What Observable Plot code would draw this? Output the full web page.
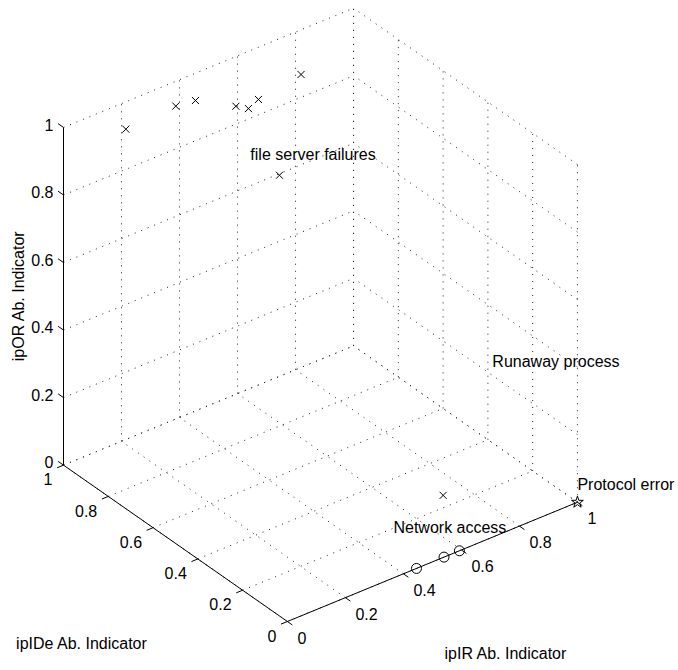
<!DOCTYPE html>
<html><head><meta charset="utf-8">
<script src="https://cdn.jsdelivr.net/npm/d3@7"></script>
<script src="https://cdn.jsdelivr.net/npm/@observablehq/plot@0.6"></script>
<style>body{margin:0;background:#fff}</style>
</head><body><div id="chart"></div>
<script>
// ---- data ----
const ticks = [0, 0.2, 0.4, 0.6, 0.8, 1];
const tickLabels = ["0", "0.2", "0.4", "0.6", "0.8", "1"];
const axisTitles = ["ipIR Ab. Indicator", "ipIDe Ab. Indicator", "ipOR Ab. Indicator"];

// "x" markers (ipIR, ipIDe, ipOR)
const crossIR  = [0.13, 0.31, 0.37, 0.44, 0.46, 0.51, 0.68, 0.32, 0.73];
const crossIDe = [0.89, 0.90, 0.89, 0.80, 0.77, 0.79, 0.82, 0.45, 0.25];
const crossOR  = [1, 1, 1, 1, 1, 1, 1, 1, 0];
// "o" markers
const circleIR  = [0.445, 0.54, 0.593];
const circleIDe = [0, 0, 0];
const circleOR  = [0, 0, 0];
// pentagram marker
const starIR = [1], starIDe = [0], starOR = [0];
// annotations
const noteText = ["file server failures", "Network access", "Runaway process", "Protocol error"];
const noteIR  = [0.32, 0.52, 1, 1];
const noteIDe = [0.58, 0.20, 0.38, 0];
const noteOR  = [1, 0, 0.24, 0.05];

// ---- 3D view (orthographic, MATLAB-like az/el) ----
const az = -37.5 * Math.PI / 180, el = 32.4 * Math.PI / 180;
const box = [1, 1.006, 1.094];
function proj(a, b, c) {
  const X = a * box[0], Y = b * box[1], Z = c * box[2];
  return [Math.cos(az) * X + Math.sin(az) * Y,
          -Math.sin(el) * Math.sin(az) * X + Math.sin(el) * Math.cos(az) * Y + Math.cos(el) * Z];
}
const W = 678, H = 670, S = 365.6, OX = 286.9, OY = 621;

function seg(p, q) { const [x1, y1] = proj(...p), [x2, y2] = proj(...q); return {x1, y1, x2, y2}; }
function pt(a, b, c, extra = {}) { const [x, y] = proj(a, b, c); return {x, y, ...extra}; }

// grid on the three back planes
const grid = [];
for (const t of ticks) {
  grid.push(seg([t, 0, 0], [t, 1, 0]), seg([0, t, 0], [1, t, 0]));   // floor
  grid.push(seg([t, 1, 0], [t, 1, 1]), seg([0, 1, t], [1, 1, t]));   // back wall (ipIDe = 1)
  grid.push(seg([1, t, 0], [1, t, 1]), seg([1, 0, t], [1, 1, t]));   // side wall (ipIR = 1)
}
const axesLines = [seg([0, 0, 0], [1, 0, 0]), seg([0, 0, 0], [0, 1, 0]), seg([0, 1, 0], [0, 1, 1])];
const tk = 0.022;
const tickSegs = [];
const irLabels = [], ideLabels = [], orLabels = [];
ticks.forEach((t, i) => {
  tickSegs.push(seg([t, 0, 0], [t, -tk, 0]));
  tickSegs.push(seg([0, t, 0], [-tk, t, 0]));
  tickSegs.push(seg([0, 1, t], [0, 1 + tk * 1.1, t]));
  irLabels.push(pt(t, 0, 0, {text: tickLabels[i]}));
  ideLabels.push(pt(0, t, 0, {text: tickLabels[i]}));
  orLabels.push(pt(0, 1, t, {text: tickLabels[i]}));
});

const crosses = crossIR.map((v, i) => pt(v, crossIDe[i], crossOR[i]));
const circles = circleIR.map((v, i) => pt(v, circleIDe[i], circleOR[i]));
const stars = starIR.map((v, i) => pt(v, starIDe[i], starOR[i]));
const notes = noteText.map((s, i) => pt(noteIR[i], noteIDe[i], noteOR[i], {text: s}));

const L = {x1: "x1", y1: "y1", x2: "x2", y2: "y2"};
const font = 16;

const chart = Plot.plot({
  width: W, height: H,
  margin: 0,
  style: {fontFamily: "'Liberation Sans', Arial, Helvetica, sans-serif", fontSize: "16px", background: "#fff", color: "#000"},
  x: {type: "linear", domain: [-OX / S, (W - OX) / S], range: [0, W], axis: null},
  y: {type: "linear", domain: [(OY - H) / S, OY / S], range: [H, 0], axis: null},
  marks: [
    Plot.link(grid, {...L, stroke: "#222", strokeWidth: 1, strokeDasharray: "1,6"}),
    Plot.link(axesLines, {...L, stroke: "#000", strokeWidth: 1}),
    Plot.link(tickSegs, {...L, stroke: "#000", strokeWidth: 1}),
    Plot.text(orLabels, {x: "x", y: "y", text: "text", textAnchor: "end", dx: -10, dy: -2, fontSize: font}),
    Plot.text(ideLabels, {x: "x", y: "y", text: "text", textAnchor: "end", dx: -11, dy: 15, fontSize: font}),
    Plot.text(irLabels, {x: "x", y: "y", text: "text", textAnchor: "start", dx: 10, dy: 17, fontSize: font}),
    Plot.text([pt(0.5, 0, 0, {text: axisTitles[0]})], {x: "x", y: "y", text: "text", dx: 73, dy: 92, fontSize: font}),
    Plot.text([pt(0, 0.5, 0, {text: axisTitles[1]})], {x: "x", y: "y", text: "text", dx: -94, dy: 101, fontSize: font}),
    Plot.text([pt(0, 1, 0.5, {text: axisTitles[2]})], {x: "x", y: "y", text: "text", dx: -45, rotate: -90, fontSize: font}),
    Plot.dot(crosses, {x: "x", y: "y", symbol: "times", r: 3.3, stroke: "#000", strokeWidth: 1}),
    Plot.dot(circles, {x: "x", y: "y", symbol: "circle", r: 5, stroke: "#000", fill: "none", strokeWidth: 1}),
    Plot.dot(stars, {x: "x", y: "y", symbol: "star", r: 3.7, stroke: "#000", fill: "none", strokeWidth: 1}),
    Plot.text(notes, {x: "x", y: "y", text: "text", textAnchor: "start", fontSize: font})
  ]
});
document.getElementById("chart").appendChild(chart);
</script>
</body></html>
